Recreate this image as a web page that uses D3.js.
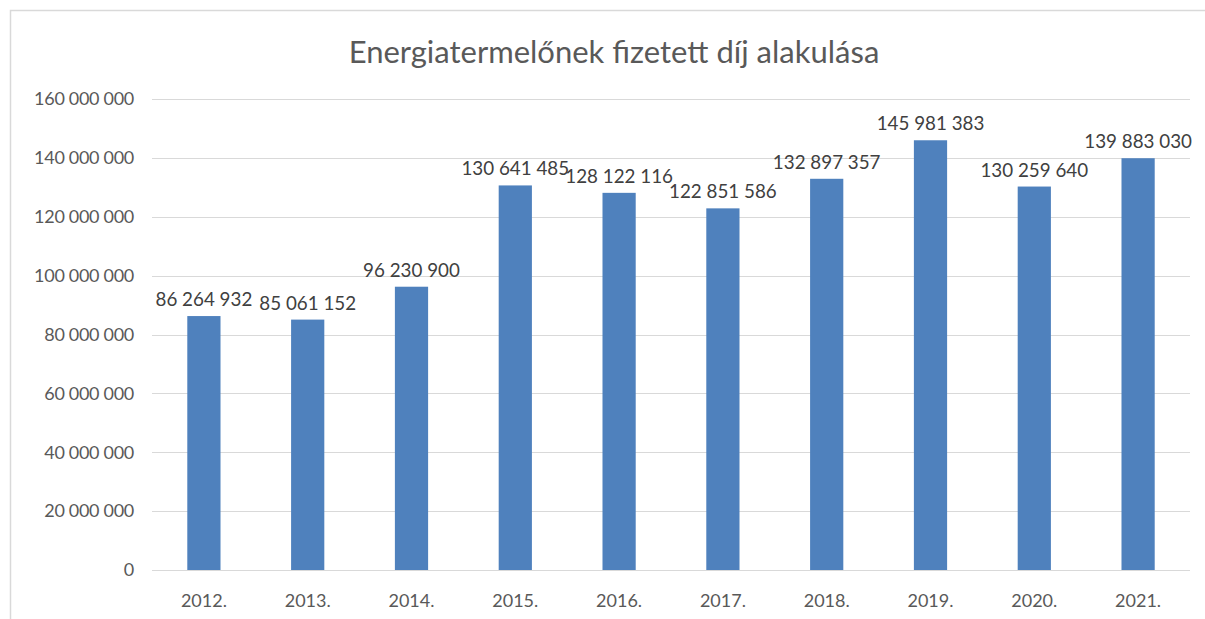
<!DOCTYPE html>
<html>
<head>
<meta charset="utf-8">
<script src="https://cdn.jsdelivr.net/npm/d3@7"></script>
<style>
  body { margin: 0; background: #fff; }
  text { font-family: Lato, "Open Sans", sans-serif; }
</style>
</head>
<body>
<div id="chart"></div>
<script>
// values
const years = ['2012.', '2013.', '2014.', '2015.', '2016.', '2017.', '2018.', '2019.', '2020.', '2021.'];
const payments = [86264932, 85061152, 96230900, 130641485, 128122116, 122851586, 132897357, 145981383, 130259640, 139883030];
const yTicks = [0, 20000000, 40000000, 60000000, 80000000, 100000000, 120000000, 140000000, 160000000];
const title = 'Energiatermelőnek fizetett díj alakulása';

const W = 1205, H = 619;
const svg = d3.select('#chart').append('svg')
    .attr('width', W)
    .attr('height', H);

// outer frame of the chart
svg.append('rect')
    .attr('x', 10.5).attr('y', 10.5)
    .attr('width', 1220).attr('height', 640)
    .attr('fill', '#fff')
    .attr('stroke', '#d9d9d9')
    .attr('stroke-width', 1.5);

const margin = { left: 152, right: 15, top: 99, bottom: 49 };

const x = d3.scaleBand()
    .domain(years)
    .range([margin.left, W - margin.right])
    .paddingInner(0.68)
    .paddingOuter(0.34);

const y = d3.scaleLinear()
    .domain([0, 160000000])
    .range([H - margin.bottom, margin.top]);

// space as thousands separator
const fmt = d3.formatLocale({ decimal: ',', thousands: ' ', grouping: [3], currency: ['', ' Ft'] }).format(',d');

// gridlines
svg.append('g')
    .selectAll('line')
    .data(yTicks)
    .enter().append('line')
    .attr('x1', margin.left)
    .attr('x2', W - margin.right)
    .attr('y1', d => Math.round(y(d)) + 0.5)
    .attr('y2', d => Math.round(y(d)) + 0.5)
    .attr('stroke', '#d9d9d9')
    .attr('stroke-width', 1.2);

// y labels
svg.append('g')
    .selectAll('text')
    .data(yTicks)
    .enter().append('text')
    .attr('x', 134)
    .attr('y', d => y(d))
    .attr('dy', '0.35em')
    .attr('text-anchor', 'end')
    .attr('fill', '#595959')
    .style('font-size', '18px')
    .style('letter-spacing', '-0.3px')
    .text(d => fmt(d));

// bars
svg.append('g')
    .selectAll('rect')
    .data(payments)
    .enter().append('rect')
    .attr('x', (d, i) => x(years[i]))
    .attr('y', d => y(d))
    .attr('width', x.bandwidth())
    .attr('height', d => y(0) - y(d))
    .attr('fill', '#4f81bd');

// data labels
svg.append('g')
    .selectAll('text')
    .data(payments)
    .enter().append('text')
    .attr('x', (d, i) => x(years[i]) + x.bandwidth() / 2)
    .attr('y', d => y(d) - 10)
    .attr('text-anchor', 'middle')
    .attr('fill', '#404040')
    .style('font-size', '18.8px')
    .text(d => fmt(d));

// x labels
svg.append('g')
    .selectAll('text')
    .data(years)
    .enter().append('text')
    .attr('x', d => x(d) + x.bandwidth() / 2)
    .attr('y', y(0) + 37)
    .attr('text-anchor', 'middle')
    .attr('fill', '#595959')
    .style('font-size', '18px')
    .text(d => d);

// title
svg.append('text')
    .attr('x', 614)
    .attr('y', 63)
    .attr('text-anchor', 'middle')
    .attr('fill', '#595959')
    .style('font-size', '31px')
    .text(title);
</script>
</body>
</html>
